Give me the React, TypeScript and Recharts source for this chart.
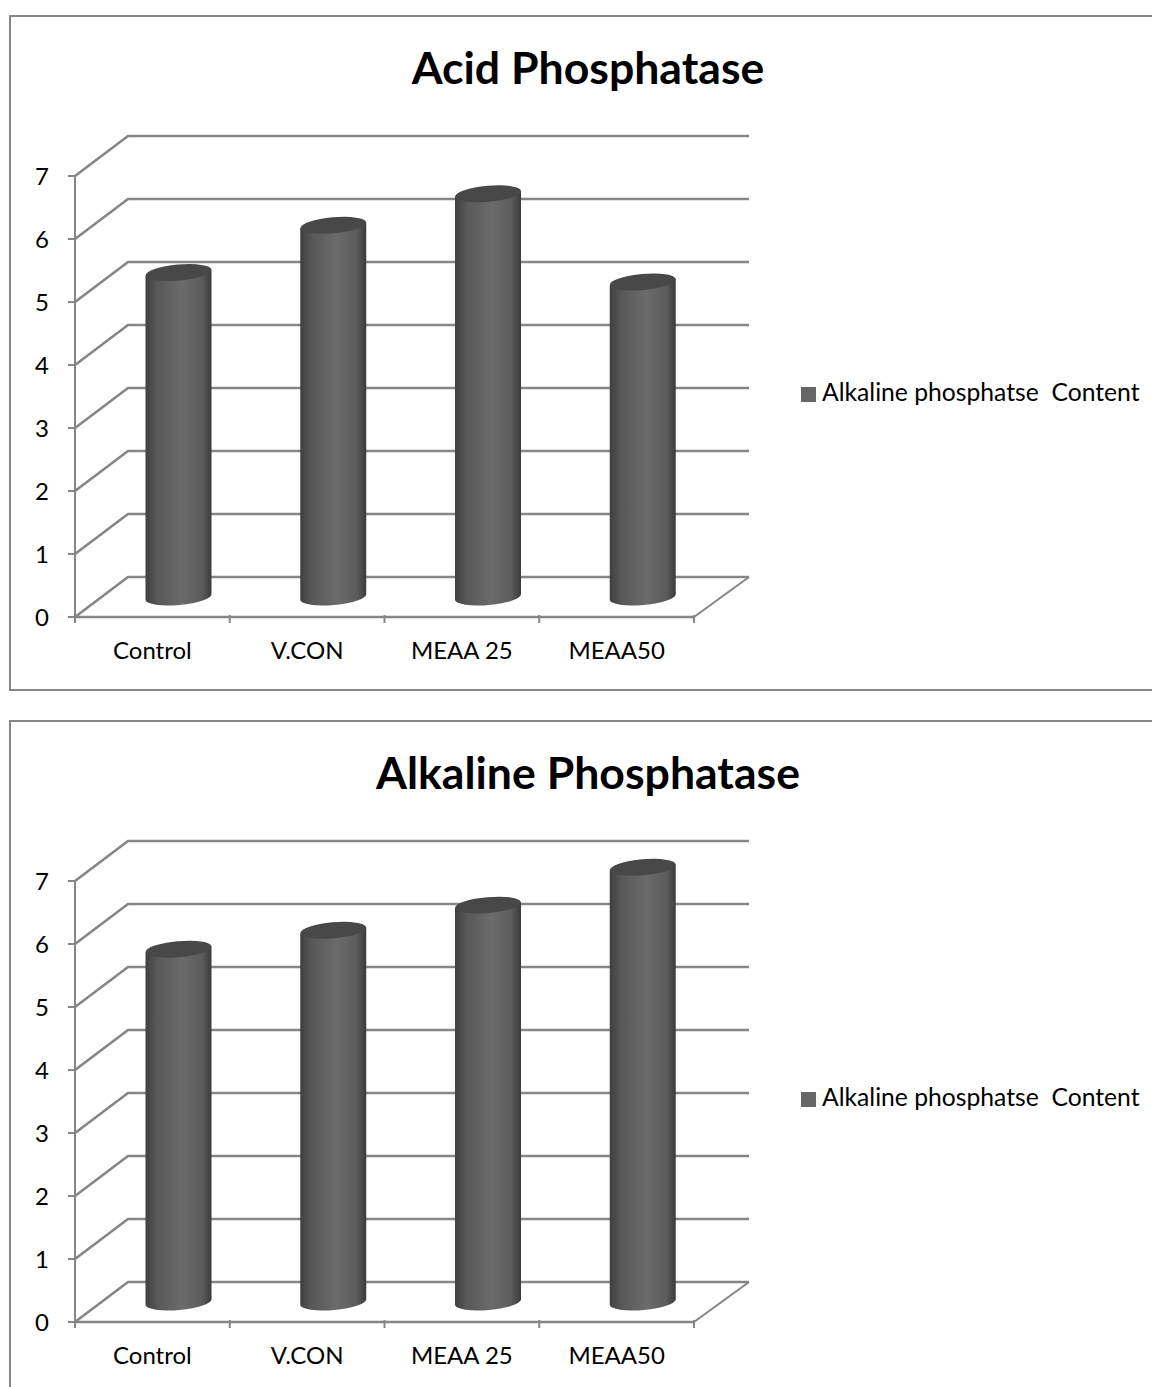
import { BarChart, Bar, XAxis, YAxis, CartesianGrid, Legend } from 'recharts'

const categories = ['Control', 'V.CON', 'MEAA 25', 'MEAA50']
const acidValues = [5.15, 5.9, 6.4, 5.0]
const alkalineValues = [5.6, 5.9, 6.3, 6.9]
const yTicks = [0, 1, 2, 3, 4, 5, 6, 7]
const seriesName = 'Alkaline phosphatse  Content'

const FONT = 'Lato, sans-serif'
const GREY = '#868686'
// oblique offset of the fake 3D floor
const DEPTH_X = 53
const DEPTH_Y = 40

function GridLine(props: any) {
  const { x1, x2, y1, y, height } = props
  const isFloor = Math.abs(y1 - (y + height)) < 1
  return (
    <g>
      <path
        d={`M${x1},${y1} L${x1 + DEPTH_X},${y1 - DEPTH_Y} L${x2 + DEPTH_X + 2},${y1 - DEPTH_Y}`}
        fill="none"
        stroke={GREY}
        strokeWidth={2.6}
      />
      {isFloor && (
        <line x1={x2} y1={y1} x2={x2 + DEPTH_X + 2} y2={y1 - DEPTH_Y} stroke={GREY} strokeWidth={2} />
      )}
    </g>
  )
}

function Cylinder(props: any) {
  const { x, y, width, height, index, gradId } = props
  const left = x + DEPTH_X / 2
  const right = left + width
  const top = y - DEPTH_Y / 2
  const bottom = y + height - DEPTH_Y / 2
  const rx = width / 2
  const id = `${gradId}-${index}`
  return (
    <g>
      <defs>
        <linearGradient id={id} x1="0" y1="0" x2="1" y2="0">
          <stop offset="0%" stopColor="#404040" />
          <stop offset="18%" stopColor="#585858" />
          <stop offset="55%" stopColor="#6b6b6b" />
          <stop offset="85%" stopColor="#5c5c5c" />
          <stop offset="100%" stopColor="#3c3c3c" />
        </linearGradient>
      </defs>
      <path
        d={`M${left},${top + 3} L${left},${bottom + 3} A${rx},8 -5 0 0 ${right},${bottom - 3} L${right},${top - 3} Z`}
        fill={`url(#${id})`}
      />
      <ellipse
        cx={left + rx}
        cy={top}
        rx={rx}
        ry={8}
        fill="#484848"
        transform={`rotate(-5 ${left + rx} ${top})`}
      />
    </g>
  )
}

function CategoryTick(props: any) {
  const { x, y, payload, index } = props
  const band = 619 / categories.length
  return (
    <g>
      <line x1={x - band / 2} y1={y - 8} x2={x - band / 2} y2={y} stroke={GREY} strokeWidth={2} />
      {index === categories.length - 1 && (
        <line x1={x + band / 2} y1={y - 8} x2={x + band / 2} y2={y} stroke={GREY} strokeWidth={2} />
      )}
      <text x={x} y={y + 36} textAnchor="middle" fontFamily={FONT} fontSize={24} fill="#000">
        {payload.value}
      </text>
    </g>
  )
}

function Panel({ title, values, top, gradId }: { title: string; values: number[]; top: number; gradId: string }) {
  const data = categories.map((name, i) => ({ name, value: values[i] }))
  return (
    <div
      style={{
        position: 'absolute',
        left: 9,
        top,
        width: 1180,
        height: 672,
        border: `2px solid ${GREY}`,
      }}
    >
      <div
        style={{
          position: 'absolute',
          left: 0,
          width: 1154,
          top: 22,
          textAlign: 'center',
          fontFamily: FONT,
          fontWeight: 700,
          fontSize: 44.6,
          lineHeight: '56px',
          color: '#000',
          zIndex: 2,
        }}
      >
        {title}
      </div>
      <BarChart
        width={1142}
        height={672}
        data={data}
        margin={{ top: 159, right: 109, bottom: 0, left: 0 }}
      >
        <CartesianGrid vertical={false} horizontal={(p: any) => <GridLine key={p.key ?? p.y1} {...p} />} />
        <XAxis
          dataKey="name"
          height={72}
          axisLine={{ stroke: GREY, strokeWidth: 2.4 }}
          tickLine={false}
          tick={<CategoryTick />}
          interval={0}
          tickMargin={0}
        />
        <YAxis
          width={64}
          domain={[0, 7]}
          ticks={yTicks}
          interval={0}
          axisLine={{ stroke: GREY, strokeWidth: 2 }}
          tickLine={{ stroke: GREY, strokeWidth: 2 }}
          tickSize={7}
          tickMargin={19}
          tick={{ fontFamily: FONT, fontSize: 24, fill: '#000' }}
        />
        <Legend
          layout="vertical"
          align="right"
          verticalAlign="middle"
          iconType="square"
          iconSize={15}
          width={340}
          wrapperStyle={{ left: 790, right: 'auto', top: 360, width: 350, fontFamily: FONT, fontSize: 24.7 }}
          formatter={(v: string) => <span style={{ color: '#000', whiteSpace: 'pre', marginLeft: 2 }}>{v}</span>}
        />
        <Bar
          dataKey="value"
          name={seriesName}
          fill="#666666"
          barSize={66}
          isAnimationActive={false}
          shape={<Cylinder gradId={gradId} />}
        />
      </BarChart>
    </div>
  )
}

export default function App() {
  return (
    <div
      style={{
        position: 'absolute',
        left: 0,
        top: 0,
        width: 1152,
        height: 1387,
        overflow: 'hidden',
        background: '#fff',
      }}
    >
      <Panel title="Acid Phosphatase" values={acidValues} top={15} gradId="acid" />
      <Panel title="Alkaline Phosphatase" values={alkalineValues} top={720} gradId="alk" />
    </div>
  )
}
